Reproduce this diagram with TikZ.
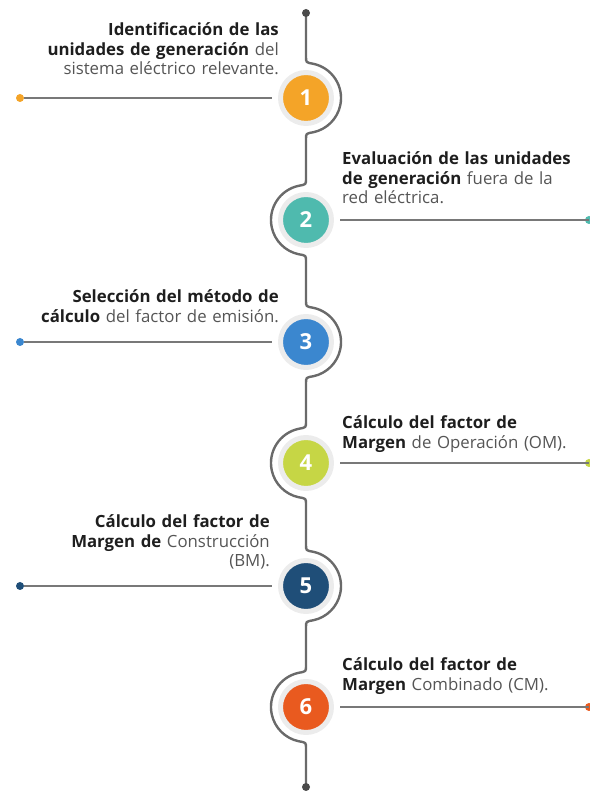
\documentclass[tikz,border=0pt]{standalone}
\usepackage{fontspec}
\setmainfont{Open Sans}
\usetikzlibrary{calc}
\definecolor{cA}{HTML}{F4A428}
\definecolor{cB}{HTML}{4FBAAE}
\definecolor{cC}{HTML}{3B87CF}
\definecolor{cD}{HTML}{C6D645}
\definecolor{cE}{HTML}{1F4E78}
\definecolor{cF}{HTML}{E95A1F}
\definecolor{spine}{HTML}{6A6A6A}
\definecolor{hline}{HTML}{787878}
\definecolor{ring}{HTML}{ECECEC}
\definecolor{txtb}{HTML}{1E1E1E}
\definecolor{txtr}{HTML}{555555}
\tikzset{
  stepcirc/.style={circle, fill=#1, draw=ring, line width=5pt, minimum size=51pt, inner sep=0pt, outer sep=8.5pt,
    text=white, font=\fontsize{22}{22}\selectfont\bfseries},
  enddot/.style={circle, fill=#1, minimum size=8pt, inner sep=0pt},
  spinedot/.style={circle, fill=spine!70!black, minimum size=8pt, inner sep=0pt},
  conn/.style={draw=hline, line width=2pt},
  spineline/.style={draw=spine, line width=2.4pt},
  txtL/.style={text width=280pt, align=right, anchor=base east, inner sep=0pt, text=txtr,
    font=\fontsize{16.8}{19.5}\selectfont},
  txtR/.style={text width=280pt, align=left, anchor=base west, inner sep=0pt, text=txtr,
    font=\fontsize{16.8}{19.5}\selectfont},
}
\newcommand{\bt}[1]{{\bfseries\color{txtb}#1}}
\begin{document}
\begin{tikzpicture}[x=1pt,y=1pt]
\useasboundingbox (0,0) rectangle (589,799);
% spine
\coordinate (top) at (306,786);
\coordinate (bot) at (306,12);
\draw[spineline]
  (top) -- (306,742)
  .. controls (306,736.5) .. (313.3,735.2) arc[start angle=78, end angle=-78, radius=35]
  .. controls (306,665.5) .. (306,660)
  -- (306,620)
  .. controls (306,614.5) .. (298.7,613.2) arc[start angle=102, end angle=258, radius=35]
  .. controls (306,543.5) .. (306,538)
  -- (306,498)
  .. controls (306,492.5) .. (313.3,491.2) arc[start angle=78, end angle=-78, radius=35]
  .. controls (306,421.5) .. (306,416)
  -- (306,377)
  .. controls (306,371.5) .. (298.7,370.2) arc[start angle=102, end angle=258, radius=35]
  .. controls (306,300.5) .. (306,295)
  -- (306,254)
  .. controls (306,248.5) .. (313.3,247.2) arc[start angle=78, end angle=-78, radius=35]
  .. controls (306,177.5) .. (306,172)
  -- (306,133)
  .. controls (306,127.5) .. (298.7,126.2) arc[start angle=102, end angle=258, radius=35]
  .. controls (306,56.5) .. (306,51)
  -- (bot);
\node[spinedot] (tdot) at (top) {};
\node[spinedot] (bdot) at (bot) {};
% circles
\node[stepcirc=cA] (s1) at (306,701) {1};
\node[stepcirc=cB] (s2) at (306,579) {2};
\node[stepcirc=cC] (s3) at (306,457) {3};
\node[stepcirc=cD] (s4) at (306,336) {4};
\node[stepcirc=cE] (s5) at (306,213) {5};
\node[stepcirc=cF] (s6) at (306,92) {6};
% dots
\node[enddot=cA] (d1) at (20,701) {};
\node[enddot=cB] (d2) at (589,579) {};
\node[enddot=cC] (d3) at (20,457) {};
\node[enddot=cD] (d4) at (589,336) {};
\node[enddot=cE] (d5) at (20,213) {};
\node[enddot=cF] (d6) at (589,92) {};
\draw[conn] (d1) -- (s1);
\draw[conn] (s2) -- (d2.center);
\draw[conn] (d3) -- (s3);
\draw[conn] (s4) -- (d4.center);
\draw[conn] (d5) -- (s5);
\draw[conn] (s6) -- (d6.center);
% texts
\node[txtL] (t1) at (279,763) {\bt{Identificación de las}\\\bt{unidades de generación} del\\sistema eléctrico relevante.};
\node[txtR] (t2) at (342,634) {\bt{Evaluación de las unidades}\\\bt{de generación} fuera de la\\red eléctrica.};
\node[txtL] (t3) at (279,496) {\bt{Selección del método de}\\\bt{cálculo} del factor de emisión.};
\node[txtR] (t4) at (342,370) {\bt{Cálculo del factor de}\\\bt{Margen} de Operación (OM).};
\node[txtL] (t5) at (270,271) {\bt{Cálculo del factor de}\\\bt{Margen de} Construcción\\(BM).};
\node[txtR] (t6) at (342,128) {\bt{Cálculo del factor de}\\\bt{Margen} Combinado (CM).};
\end{tikzpicture}
\end{document}
